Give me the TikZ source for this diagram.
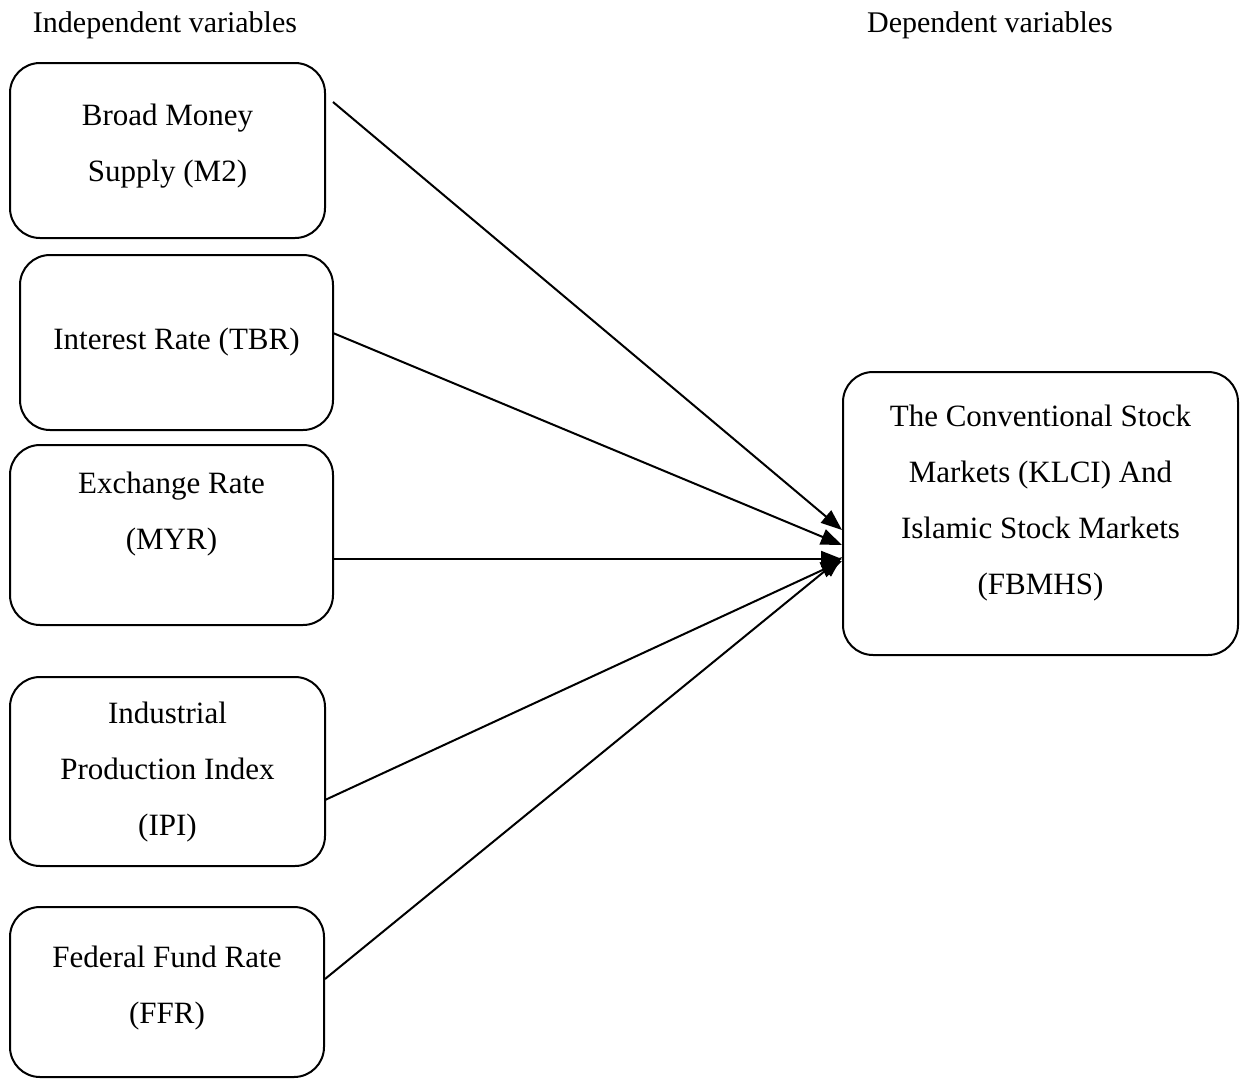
\documentclass[tikz,border=0pt]{standalone}
\usepackage{fontspec}
\setmainfont{Liberation Serif}
\usetikzlibrary{arrows.meta}
\begin{document}
\begin{tikzpicture}[x=1pt,y=-1pt,
  vbox/.style={draw=black,line width=2pt,rounded corners=30pt,inner sep=0pt},
  vtxt/.style={align=center,font=\fontsize{31}{56}\selectfont,inner sep=0pt},
  hdr/.style={font=\fontsize{30}{34}\selectfont,inner sep=0pt},
  link/.style={line width=2pt,-{Triangle[length=21pt,width=16pt]}}]
\useasboundingbox (0,0) rectangle (1248,1079);
\node[hdr] (hin) at (165,25) {Independent variables};
\node[hdr] (hdep) at (990,25) {Dependent variables};
\node[vbox,minimum width=315pt,minimum height=175pt] (m2) at (167.5,150.5) {};
\node[vtxt] (m2t) at ([yshift=4pt]m2.center) {Broad Money\\Supply (M2)};
\node[vbox,minimum width=313pt,minimum height=175pt] (tbr) at (176.5,342.5) {};
\node[vtxt] (tbrt) at (tbr.center) {Interest Rate (TBR)};
\node[vbox,minimum width=323pt,minimum height=180pt] (myr) at (171.5,535) {};
\node[vtxt] (myrt) at ([yshift=21pt]myr.center) {Exchange Rate\\(MYR)};
\node[vbox,minimum width=315pt,minimum height=189pt] (ipi) at (167.5,771.5) {};
\node[vtxt] (ipit) at ([yshift=-1pt]ipi.center) {Industrial\\Production Index\\(IPI)};
\node[vbox,minimum width=314pt,minimum height=170pt] (ffr) at (167,992) {};
\node[vtxt] (ffrt) at ([yshift=4pt]ffr.center) {Federal Fund Rate\\(FFR)};
\node[vbox,minimum width=395pt,minimum height=283pt] (dep) at (1040.5,513.5) {};
\node[vtxt] (dept) at ([yshift=10pt]dep.center) {The Conventional Stock\\Markets (KLCI) And\\Islamic Stock Markets\\(FBMHS)};
\coordinate (s1) at (333,102);
\coordinate (s2) at (333,333);
\coordinate (s3) at (333,559);
\coordinate (s4) at (325,800);
\coordinate (s5) at (325,979);
\coordinate (e1) at (dep.west |- 0,530);
\coordinate (e2) at (dep.west |- 0,545);
\coordinate (e3) at (dep.west |- 0,559);
\coordinate (e4) at (dep.west |- 0,561);
\coordinate (e5) at (dep.west |- 0,557);
\draw[link] (s1) -- (e1);
\draw[link] (s2) -- (e2);
\draw[link] (s3) -- (e3);
\draw[link] (s4) -- (e4);
\draw[link] (s5) -- (e5);
\end{tikzpicture}
\end{document}
